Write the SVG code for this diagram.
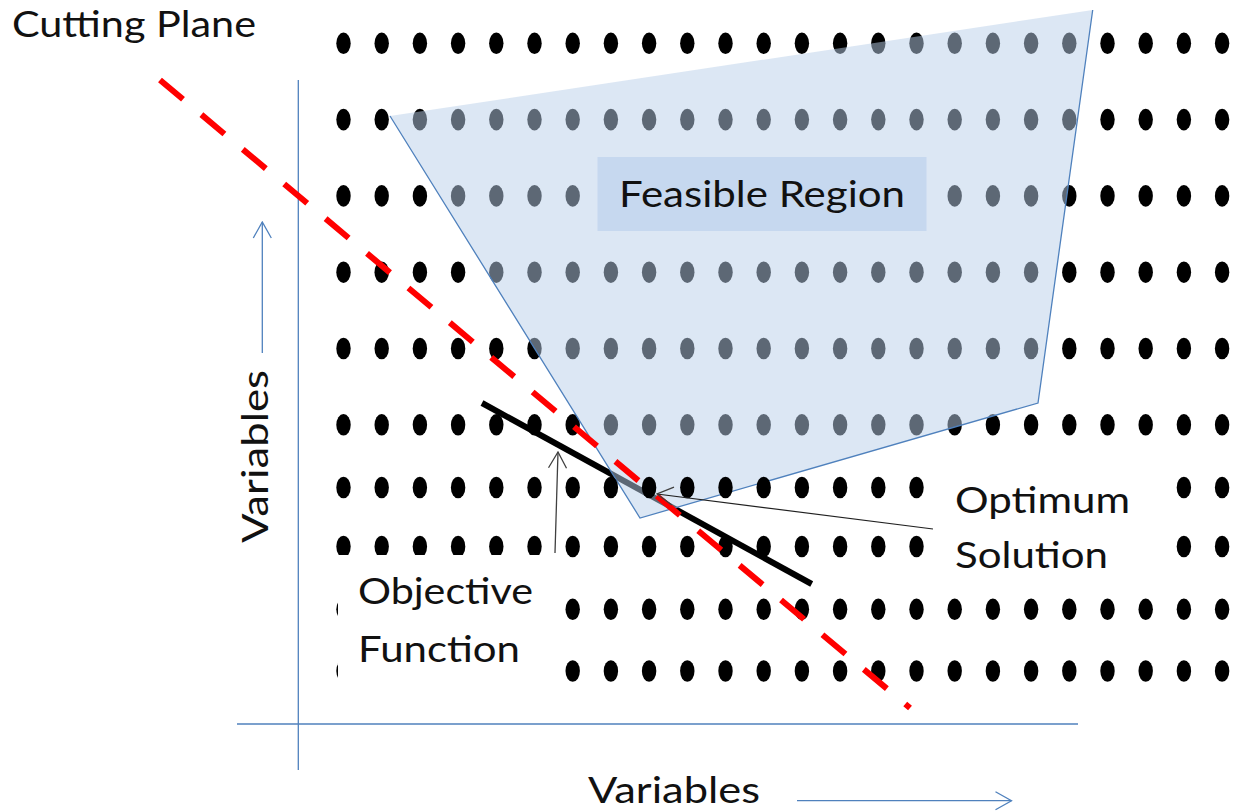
<svg xmlns="http://www.w3.org/2000/svg" xmlns:xlink="http://www.w3.org/1999/xlink" width="1233" height="811" viewBox="0 0 1233 811">
<style>
.lbl{font-family:Lato,"Open Sans","Liberation Sans",sans-serif;fill:#111;font-size:37px}
.axis{stroke:#4f81bd;stroke-width:1.3;fill:none}
.dot{fill:#000}
</style>
<defs>
<marker id="arrBlue" viewBox="0 0 18 20" refX="17" refY="10" markerWidth="18" markerHeight="20" markerUnits="userSpaceOnUse" orient="auto"><path d="M1,1 L17,10 L1,19" fill="none" stroke="#4f81bd" stroke-width="1.3"/></marker>
<marker id="arrDark" viewBox="0 0 18 20" refX="17" refY="10" markerWidth="18" markerHeight="20" markerUnits="userSpaceOnUse" orient="auto"><path d="M1,1 L17,10 L1,19" fill="none" stroke="#404040" stroke-width="1.3"/></marker>
<g id="dotrow" class="dot">
<ellipse cx="343.5" cy="0" rx="7.2" ry="10.8"/><ellipse cx="381.7" cy="0" rx="7.2" ry="10.8"/><ellipse cx="419.9" cy="0" rx="7.2" ry="10.8"/><ellipse cx="458.1" cy="0" rx="7.2" ry="10.8"/><ellipse cx="496.3" cy="0" rx="7.2" ry="10.8"/><ellipse cx="534.5" cy="0" rx="7.2" ry="10.8"/><ellipse cx="572.7" cy="0" rx="7.2" ry="10.8"/><ellipse cx="610.9" cy="0" rx="7.2" ry="10.8"/><ellipse cx="649.1" cy="0" rx="7.2" ry="10.8"/><ellipse cx="687.3" cy="0" rx="7.2" ry="10.8"/><ellipse cx="725.5" cy="0" rx="7.2" ry="10.8"/><ellipse cx="763.7" cy="0" rx="7.2" ry="10.8"/><ellipse cx="801.9" cy="0" rx="7.2" ry="10.8"/><ellipse cx="840.1" cy="0" rx="7.2" ry="10.8"/><ellipse cx="878.3" cy="0" rx="7.2" ry="10.8"/><ellipse cx="916.5" cy="0" rx="7.2" ry="10.8"/><ellipse cx="954.7" cy="0" rx="7.2" ry="10.8"/><ellipse cx="992.9" cy="0" rx="7.2" ry="10.8"/><ellipse cx="1031.1" cy="0" rx="7.2" ry="10.8"/><ellipse cx="1069.3" cy="0" rx="7.2" ry="10.8"/><ellipse cx="1107.5" cy="0" rx="7.2" ry="10.8"/><ellipse cx="1145.7" cy="0" rx="7.2" ry="10.8"/><ellipse cx="1183.9" cy="0" rx="7.2" ry="10.8"/><ellipse cx="1222.1" cy="0" rx="7.2" ry="10.8"/>
</g>
</defs>
<rect width="1233" height="811" fill="#fff"/>

<g id="axes">
<line class="axis" x1="298.3" y1="80" x2="298.3" y2="770"/>
<line class="axis" x1="237" y1="724" x2="1078" y2="724"/>
</g>

<g id="lattice-upper">
<use xlink:href="#dotrow" href="#dotrow" y="43.3"/>
<use xlink:href="#dotrow" href="#dotrow" y="119.6"/>
<use xlink:href="#dotrow" href="#dotrow" y="195.9"/>
<use xlink:href="#dotrow" href="#dotrow" y="272.2"/>
<use xlink:href="#dotrow" href="#dotrow" y="348.5"/>
<use xlink:href="#dotrow" href="#dotrow" y="424.8"/>
</g>

<g id="objective-line">
<line x1="482" y1="403" x2="811.7" y2="584" stroke="#000" stroke-width="6"/>
</g>

<g id="feasible-region">
<polygon points="390,116 1092.7,10 1038,403 640,518" fill="#b9cfea" fill-opacity="0.5" stroke="none"/>
<polyline points="1092.7,10 1038,403 640,518 390,116" fill="none" stroke="#4f81bd" stroke-width="1.3"/>
<rect x="597.5" y="157" width="329" height="74" fill="#c6d8ef"/>
<text class="lbl" x="619" y="206.7" font-size="38" textLength="286" lengthAdjust="spacingAndGlyphs">Feasible Region</text>
</g>

<g id="lattice-lower">
<use xlink:href="#dotrow" href="#dotrow" y="487.5"/>
<use xlink:href="#dotrow" href="#dotrow" y="546.5"/>
<use xlink:href="#dotrow" href="#dotrow" y="609.3"/>
<use xlink:href="#dotrow" href="#dotrow" y="671"/>
</g>

<g id="cutting-plane">
<line x1="160" y1="80" x2="910" y2="708" stroke="#ff0000" stroke-width="6" stroke-dasharray="30 24"/>
</g>

<g id="connectors">
<line x1="262.3" y1="353" x2="262.3" y2="222" stroke="#4f81bd" stroke-width="1.3" marker-end="url(#arrBlue)"/>
<line x1="797" y1="800.7" x2="1011.5" y2="800.7" stroke="#4f81bd" stroke-width="1.3" marker-end="url(#arrBlue)"/>
<line x1="555" y1="553" x2="558" y2="452" stroke="#404040" stroke-width="1.3" marker-end="url(#arrDark)"/>
<line x1="933" y1="529" x2="657" y2="494" stroke="#202020" stroke-width="1.2" marker-end="url(#arrDark)"/>
</g>

<g id="cutting-plane-label">
<text class="lbl" x="12" y="37.3" font-size="34" textLength="244" lengthAdjust="spacingAndGlyphs">Cutting Plane</text>
</g>

<g id="objective-function-label">
<rect x="338" y="555" width="217" height="145" fill="#fff"/>
<text class="lbl" x="358" y="604" textLength="175" lengthAdjust="spacingAndGlyphs">Objective</text>
<text class="lbl" x="358" y="661.7" textLength="162" lengthAdjust="spacingAndGlyphs">Function</text>
</g>

<g id="optimum-solution-label">
<rect x="933" y="470" width="243" height="118" fill="#fff"/>
<text class="lbl" x="955" y="513.3" textLength="175" lengthAdjust="spacingAndGlyphs">Optimum</text>
<text class="lbl" x="955" y="568.3" textLength="153" lengthAdjust="spacingAndGlyphs">Solution</text>
</g>

<g id="x-axis-label">
<text class="lbl" x="588" y="802.5" textLength="172" lengthAdjust="spacingAndGlyphs">Variables</text>
</g>

<g id="y-axis-label">
<text class="lbl" transform="translate(268,543) rotate(-90)" x="0" y="0" textLength="173" lengthAdjust="spacingAndGlyphs">Variables</text>
</g>
</svg>
